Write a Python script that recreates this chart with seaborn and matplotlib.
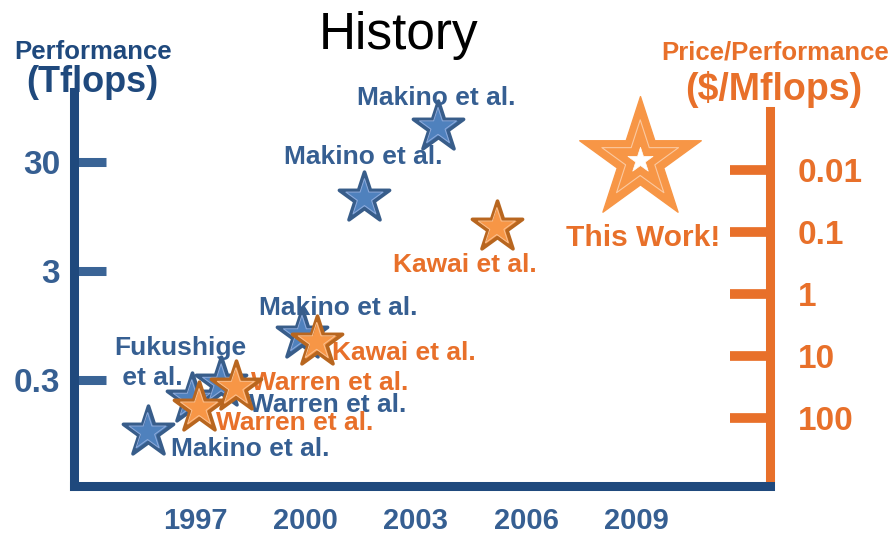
import matplotlib
matplotlib.use("Agg")
import matplotlib.pyplot as plt
from matplotlib import font_manager
from matplotlib.ticker import NullLocator
import seaborn as sns

# data
perf_years = [1995.7, 1996.9, 1997.7, 1999.9, 2001.6, 2003.6]
perf_tflops = [0.10, 0.20, 0.28, 0.78, 14.0, 63.0]
perf_labels = ["Makino et al.", "Fukushige\n et al.", "Warren et al.",
               "Makino et al.", "Makino et al.", "Makino et al."]

price_years = [1997.1, 1998.1, 2000.3, 2005.2]
price_dollars = [69.0, 32.0, 5.9, 0.083]
price_labels = ["Warren et al.", "Warren et al.", "Kawai et al.", "Kawai et al."]

this_work_year = [2009.1]
this_work_price = [0.0069]
this_work_label = "This Work!"

year_ticks = [1997, 2000, 2003, 2006, 2009]
perf_ticks = [0.3, 3, 30]
perf_tick_labels = ["0.3", "3", "30"]
price_ticks = [0.01, 0.1, 1, 10, 100]
price_tick_labels = ["0.01", "0.1", "1", "10", "100"]

# label offsets in pixels (dx right, dy up) from each star
perf_offsets = [(23, -17), (-77, 36), (28, -22), (-43, 27), (-80, 41), (-81, 29)]
price_offsets = [(17, -15), (15, 4), (15, -11), (-104, -38)]
this_work_offset = (-74, -78)

sns.set_style("white")
plt.rcParams["font.family"] = ["Liberation Sans", "DejaVu Sans"]
names = {f.name for f in font_manager.fontManager.ttflist}
narrow = "Liberation Sans Narrow" if "Liberation Sans Narrow" in names else "Liberation Sans"
year_size = 23 if narrow == "Liberation Sans Narrow" else 21

dark_blue = "#1F497D"
tick_blue = "#3A6496"
text_blue = "#365F92"
star_blue = "#4F81BD"
star_blue_edge = "#385D8A"
orange = "#E8702A"
star_orange = "#F79646"
star_orange_edge = "#B8661F"

W, H = 893, 537
fig = plt.figure(figsize=(W / 100, H / 100), dpi=100)
ax = fig.add_axes([74 / W, (H - 486) / H, (770 - 74) / W, (486 - 92) / H])

ax.set_yscale("log")
ax.set_xlim(1993.7, 2012.63)
ax.set_ylim(0.032, 131.6)

ax2 = ax.twinx()
ax2.set_yscale("log")
ax2.set_ylim(1250, 5.5e-4)

# spines
for s in ["top", "right"]:
    ax.spines[s].set_visible(False)
for s in ["left", "bottom"]:
    ax.spines[s].set_color(dark_blue)
    ax.spines[s].set_linewidth(6.5)
for s in ["top", "left", "bottom"]:
    ax2.spines[s].set_visible(False)
ax2.spines["right"].set_color(orange)
ax2.spines["right"].set_linewidth(6.5)
ax2.spines["right"].set_bounds(1.1e-3, 0.9e3)

# ticks
ax.set_xticks(year_ticks, [str(y) for y in year_ticks], fontweight="bold", fontfamily=narrow)
ax.tick_params(axis="x", direction="in", length=26, width=5, color=tick_blue,
               pad=15, labelsize=year_size, labelcolor=text_blue)
ax.set_yticks(perf_ticks, perf_tick_labels, fontweight="bold")
ax.yaxis.set_minor_locator(NullLocator())
ax.tick_params(axis="y", direction="in", length=23, width=6.5, color=tick_blue,
               pad=10, labelsize=24, labelcolor=text_blue)
ax2.set_yticks(price_ticks, price_tick_labels, fontweight="bold")
ax2.yaxis.set_minor_locator(NullLocator())
ax2.tick_params(axis="y", direction="in", length=29, width=7, color=orange,
                pad=20, labelsize=24, labelcolor=orange)

# stars: performance (blue, left axis)
sns.scatterplot(x=perf_years, y=perf_tflops, marker="*", s=38 ** 2, color=star_blue,
                edgecolor=star_blue_edge, linewidth=2.6, ax=ax, zorder=5, legend=False)
sns.scatterplot(x=perf_years, y=perf_tflops, marker="*", s=28 ** 2, facecolor="none",
                edgecolor="#8EAADB", linewidth=0.7, ax=ax, zorder=6, legend=False)

# stars: price/performance (orange, right axis)
sns.scatterplot(x=price_years, y=price_dollars, marker="*", s=38 ** 2, color=star_orange,
                edgecolor=star_orange_edge, linewidth=2.6, ax=ax2, zorder=5, legend=False)
sns.scatterplot(x=price_years, y=price_dollars, marker="*", s=28 ** 2, facecolor="none",
                edgecolor="#FAC090", linewidth=0.7, ax=ax2, zorder=6, legend=False)

# this work
sns.scatterplot(x=this_work_year, y=this_work_price, marker="*", s=92 ** 2, color=star_orange,
                edgecolor=star_orange, linewidth=1, ax=ax2, zorder=5, legend=False)
sns.scatterplot(x=this_work_year, y=this_work_price, marker="*", s=58 ** 2, facecolor="none",
                edgecolor="#FBC9A0", linewidth=0.8, ax=ax2, zorder=6, legend=False)
sns.scatterplot(x=this_work_year, y=this_work_price, marker="*", s=19 ** 2, color="white",
                edgecolor="white", linewidth=0.5, ax=ax2, zorder=7, legend=False)

# labels
for x, y, lab, (dx, dy) in zip(perf_years, perf_tflops, perf_labels, perf_offsets):
    ax.annotate(lab, (x, y), xytext=(dx, dy), textcoords="offset pixels", ha="left",
                va="center", fontsize=19, fontweight="bold", color=text_blue,
                linespacing=1.3, zorder=4)
for x, y, lab, (dx, dy) in zip(price_years, price_dollars, price_labels, price_offsets):
    ax2.annotate(lab, (x, y), xytext=(dx, dy), textcoords="offset pixels", ha="left",
                 va="center", fontsize=19, fontweight="bold", color=orange, zorder=4)
ax2.annotate(this_work_label, (this_work_year[0], this_work_price[0]), xytext=this_work_offset,
             textcoords="offset pixels", ha="left", va="center", fontsize=21.5,
             fontweight="bold", color=orange, zorder=4)

# headings
fig.text(399 / W, 1 - 35 / H, "History", ha="center", va="center", fontsize=37, color="black")
fig.text(93 / W, 1 - 52 / H, "Performance", ha="center", va="center", fontsize=18.5,
         fontweight="bold", color=dark_blue)
fig.text(92 / W, 1 - 82 / H, "(Tflops)", ha="center", va="center", fontsize=26,
         fontweight="bold", color=dark_blue)
fig.text(775 / W, 1 - 52 / H, "Price/Performance", ha="center", va="center", fontsize=18.5,
         fontweight="bold", color=orange)
fig.text(774 / W, 1 - 90 / H, "($/Mflops)", ha="center", va="center", fontsize=27,
         fontweight="bold", color=orange)

fig.savefig("out.png", dpi=100)
